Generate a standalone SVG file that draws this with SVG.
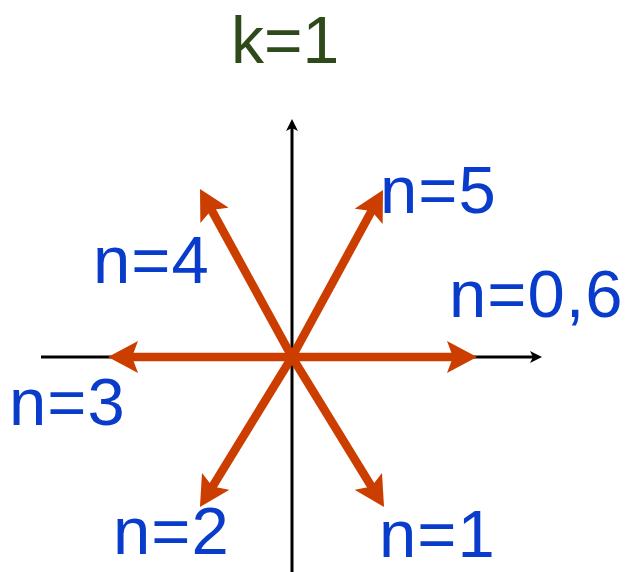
<svg xmlns="http://www.w3.org/2000/svg" width="630" height="572" viewBox="0 0 630 572">
<style>
.axis{stroke:#000;stroke-width:3;fill:none}
.vec{stroke:#cc3d00;stroke-width:8.5;fill:none}
.lbl{font-family:"Liberation Sans",Arial,sans-serif;font-size:67px;fill:#0a3ccc;letter-spacing:1px}
.title{font-family:"Liberation Sans",Arial,sans-serif;font-size:66px;fill:#2e4a1a}
</style>
<defs>
<marker id="ah" viewBox="0 0 12 12" markerUnits="userSpaceOnUse" markerWidth="12" markerHeight="12" refX="6" refY="6" orient="auto">
<path d="M0,0 L12,6 L0,12 L3,6 Z" fill="#000"/>
</marker>
<marker id="rh" viewBox="0 0 30 32" markerUnits="userSpaceOnUse" markerWidth="30" markerHeight="32" refX="15" refY="16" orient="auto">
<path d="M0,0 L30,16 L0,32 L6,16 Z" fill="#cc3d00"/>
</marker>
</defs>
<g id="connectors">
<line id="x-axis" class="axis" x1="41" y1="357" x2="536" y2="357" marker-end="url(#ah)"/>
<line id="y-axis" class="axis" x1="292" y1="572" x2="292" y2="125" marker-end="url(#ah)"/>
<line class="vec" x1="292" y1="357" x2="462" y2="357" marker-end="url(#rh)"/>
<line class="vec" x1="292" y1="357" x2="123" y2="357" marker-end="url(#rh)"/>
<line class="vec" x1="292" y1="357" x2="375.8" y2="203.2" marker-end="url(#rh)"/>
<line class="vec" x1="292" y1="357" x2="207.2" y2="202.1" marker-end="url(#rh)"/>
<line class="vec" x1="292" y1="357" x2="207.8" y2="494.2" marker-end="url(#rh)"/>
<line class="vec" x1="292" y1="357" x2="376.2" y2="494.2" marker-end="url(#rh)"/>
</g>
<g id="title"><text class="title" x="231" y="63">k=1</text></g>
<g id="n5"><text class="lbl" x="380" y="213">n=5</text></g>
<g id="n06"><text class="lbl" x="449" y="317">n=0,6</text></g>
<g id="n4"><text class="lbl" x="93" y="283">n=4</text></g>
<g id="n3"><text class="lbl" x="9" y="425">n=3</text></g>
<g id="n2"><text class="lbl" x="113" y="554">n=2</text></g>
<g id="n1"><text class="lbl" x="379" y="557">n=1</text></g>
</svg>
